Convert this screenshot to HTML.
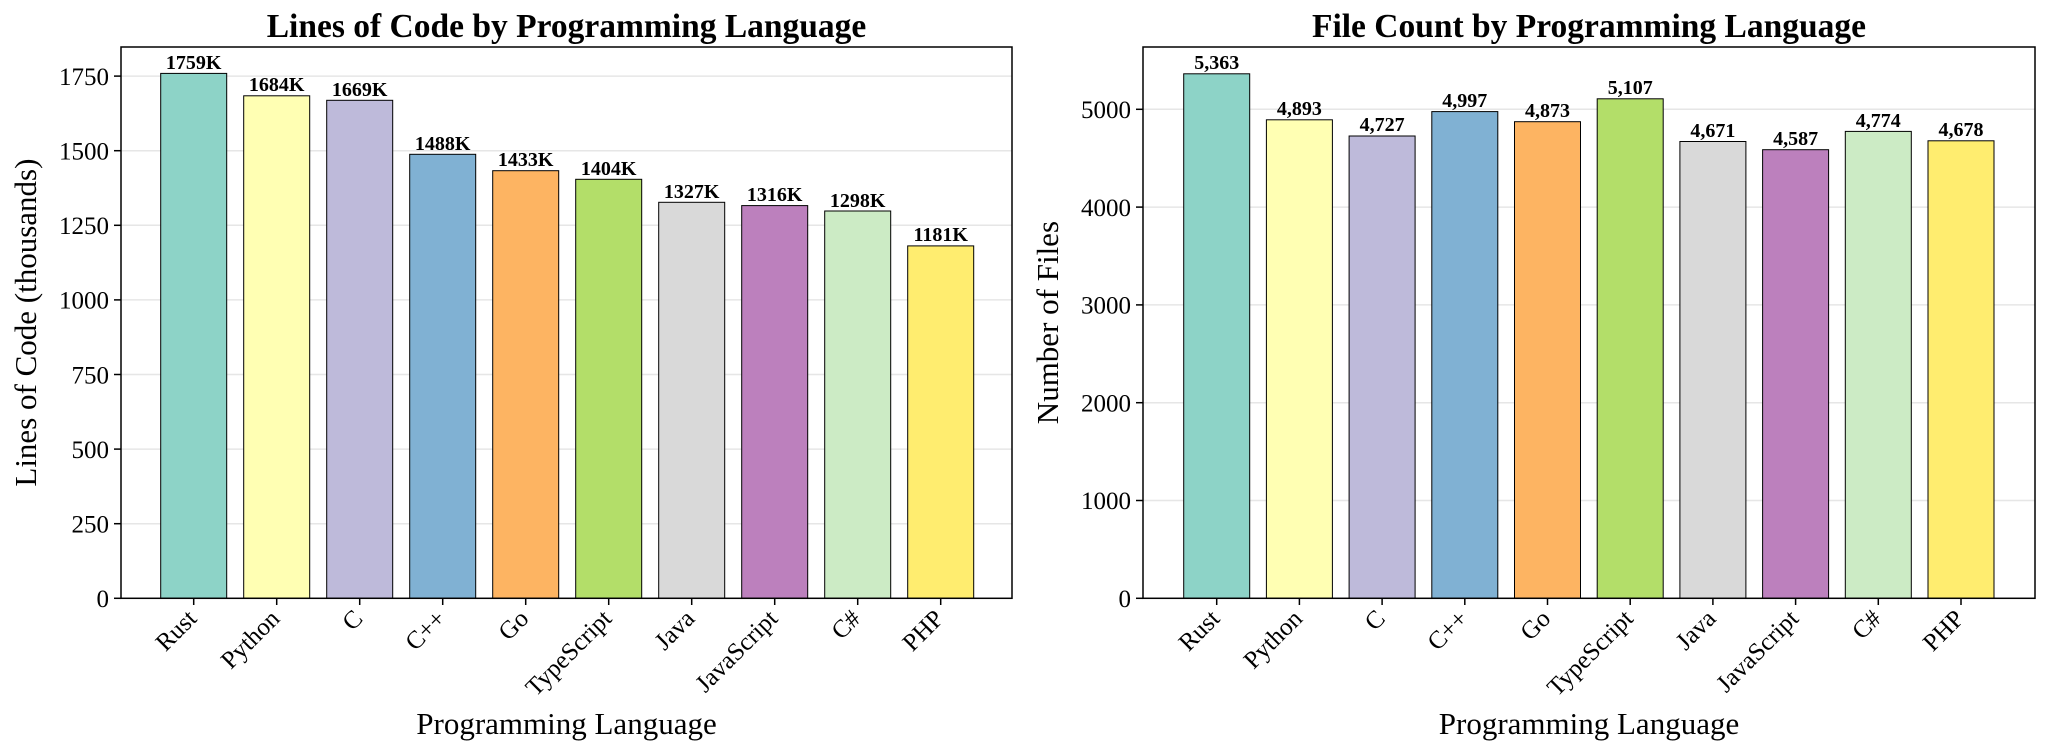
<!DOCTYPE html>
<html><head><meta charset="utf-8"><style>
html,body{margin:0;padding:0;background:#fff;}
svg{display:block;font-family:"Liberation Serif",serif;}
</style></head><body>
<svg width="2048" height="755" viewBox="0 0 2048 755" xmlns="http://www.w3.org/2000/svg">
<g id="left">
<text x="566.5" y="37" font-size="33.5" font-weight="bold" text-anchor="middle">Lines of Code by Programming Language</text>
<g stroke="#e6e6e6" stroke-width="1.5">
<line x1="121" x2="1012" y1="523.7" y2="523.7"/><line x1="121" x2="1012" y1="449.1" y2="449.1"/>
<line x1="121" x2="1012" y1="374.5" y2="374.5"/><line x1="121" x2="1012" y1="299.9" y2="299.9"/>
<line x1="121" x2="1012" y1="225.3" y2="225.3"/><line x1="121" x2="1012" y1="150.7" y2="150.7"/>
<line x1="121" x2="1012" y1="76.1" y2="76.1"/>
</g>
<g stroke="#000" stroke-width="1">
<rect x="160.7" y="73.4" width="66" height="524.9" fill="#8dd3c7"/>
<rect x="243.7" y="95.8" width="66" height="502.5" fill="#ffffb3"/>
<rect x="326.7" y="100.3" width="66" height="498" fill="#bebada"/>
<rect x="409.7" y="154.3" width="66" height="444" fill="#80b1d3"/>
<rect x="492.7" y="170.7" width="66" height="427.6" fill="#fdb462"/>
<rect x="575.7" y="179.3" width="66" height="419" fill="#b3de69"/>
<rect x="658.7" y="202.3" width="66" height="396" fill="#d9d9d9"/>
<rect x="741.7" y="205.6" width="66" height="392.7" fill="#bc80bd"/>
<rect x="824.7" y="211" width="66" height="387.3" fill="#ccebc5"/>
<rect x="907.7" y="245.9" width="66" height="352.4" fill="#ffed6f"/>
</g>
<g font-size="20" font-weight="bold" text-anchor="middle">
<text x="193.7" y="69">1759K</text><text x="276.7" y="91">1684K</text><text x="359.7" y="96">1669K</text>
<text x="442.7" y="150">1488K</text><text x="525.7" y="166">1433K</text><text x="608.7" y="175">1404K</text>
<text x="691.7" y="198">1327K</text><text x="774.7" y="201">1316K</text><text x="857.7" y="207">1298K</text>
<text x="940.7" y="241">1181K</text>
</g>
<rect x="121" y="47" width="891" height="551.3" fill="none" stroke="#000" stroke-width="1.5"/>
<g stroke="#000" stroke-width="1.5">
<line x1="114" x2="121" y1="598.3" y2="598.3"/><line x1="114" x2="121" y1="523.7" y2="523.7"/>
<line x1="114" x2="121" y1="449.1" y2="449.1"/><line x1="114" x2="121" y1="374.5" y2="374.5"/>
<line x1="114" x2="121" y1="299.9" y2="299.9"/><line x1="114" x2="121" y1="225.3" y2="225.3"/>
<line x1="114" x2="121" y1="150.7" y2="150.7"/><line x1="114" x2="121" y1="76.1" y2="76.1"/>
</g>
<g font-size="25" text-anchor="end">
<text x="109" y="607">0</text><text x="109" y="532.5">250</text><text x="109" y="458">500</text>
<text x="109" y="383.5">750</text><text x="109" y="308.5">1000</text><text x="109" y="234">1250</text>
<text x="109" y="159.5">1500</text><text x="109" y="85">1750</text>
</g>
<text transform="translate(36,322.6) rotate(-90)" font-size="31" text-anchor="middle">Lines of Code (thousands)</text>
<text x="566.5" y="734" font-size="31" text-anchor="middle">Programming Language</text>
</g>
<g id="right">
<text x="1589" y="37" font-size="33.5" font-weight="bold" text-anchor="middle">File Count by Programming Language</text>
<g stroke="#e6e6e6" stroke-width="1.5">
<line x1="1143" x2="2035" y1="500.5" y2="500.5"/><line x1="1143" x2="2035" y1="402.7" y2="402.7"/>
<line x1="1143" x2="2035" y1="304.9" y2="304.9"/><line x1="1143" x2="2035" y1="207.1" y2="207.1"/>
<line x1="1143" x2="2035" y1="109.3" y2="109.3"/>
</g>
<g stroke="#000" stroke-width="1">
<rect x="1183.7" y="73.8" width="66" height="524.5" fill="#8dd3c7"/>
<rect x="1266.4" y="119.8" width="66" height="478.5" fill="#ffffb3"/>
<rect x="1349.1" y="136" width="66" height="462.3" fill="#bebada"/>
<rect x="1431.8" y="111.6" width="66" height="486.7" fill="#80b1d3"/>
<rect x="1514.5" y="121.7" width="66" height="476.6" fill="#fdb462"/>
<rect x="1597.2" y="98.8" width="66" height="499.5" fill="#b3de69"/>
<rect x="1679.9" y="141.5" width="66" height="456.8" fill="#d9d9d9"/>
<rect x="1762.6" y="149.7" width="66" height="448.6" fill="#bc80bd"/>
<rect x="1845.3" y="131.4" width="66" height="466.9" fill="#ccebc5"/>
<rect x="1928" y="140.8" width="66" height="457.5" fill="#ffed6f"/>
</g>
<g font-size="20" font-weight="bold" text-anchor="middle">
<text x="1216.7" y="69">5,363</text><text x="1299.4" y="115">4,893</text><text x="1382.1" y="131">4,727</text>
<text x="1464.8" y="107">4,997</text><text x="1547.5" y="117">4,873</text><text x="1630.2" y="94">5,107</text>
<text x="1712.9" y="137">4,671</text><text x="1795.6" y="145">4,587</text><text x="1878.3" y="127">4,774</text>
<text x="1961" y="136">4,678</text>
</g>
<rect x="1143" y="47" width="892" height="551.3" fill="none" stroke="#000" stroke-width="1.5"/>
<g stroke="#000" stroke-width="1.5">
<line x1="1136" x2="1143" y1="598.3" y2="598.3"/><line x1="1136" x2="1143" y1="500.5" y2="500.5"/>
<line x1="1136" x2="1143" y1="402.7" y2="402.7"/><line x1="1136" x2="1143" y1="304.9" y2="304.9"/>
<line x1="1136" x2="1143" y1="207.1" y2="207.1"/><line x1="1136" x2="1143" y1="109.3" y2="109.3"/>
</g>
<g font-size="25" text-anchor="end">
<text x="1131" y="607">0</text><text x="1131" y="509.2">1000</text><text x="1131" y="411.5">2000</text>
<text x="1131" y="313.5">3000</text><text x="1131" y="215.8">4000</text><text x="1131" y="118">5000</text>
</g>
<text transform="translate(1058,322.6) rotate(-90)" font-size="31" text-anchor="middle">Number of Files</text>
<text x="1589" y="734" font-size="31" text-anchor="middle">Programming Language</text>
</g>
<g stroke="#000" stroke-width="1.5">
<line x1="193.7" x2="193.7" y1="598.3" y2="605"/><line x1="276.7" x2="276.7" y1="598.3" y2="605"/>
<line x1="359.7" x2="359.7" y1="598.3" y2="605"/><line x1="442.7" x2="442.7" y1="598.3" y2="605"/>
<line x1="525.7" x2="525.7" y1="598.3" y2="605"/><line x1="608.7" x2="608.7" y1="598.3" y2="605"/>
<line x1="691.7" x2="691.7" y1="598.3" y2="605"/><line x1="774.7" x2="774.7" y1="598.3" y2="605"/>
<line x1="857.7" x2="857.7" y1="598.3" y2="605"/><line x1="940.7" x2="940.7" y1="598.3" y2="605"/>
<line x1="1216.7" x2="1216.7" y1="598.3" y2="605"/><line x1="1299.4" x2="1299.4" y1="598.3" y2="605"/>
<line x1="1382.1" x2="1382.1" y1="598.3" y2="605"/><line x1="1464.8" x2="1464.8" y1="598.3" y2="605"/>
<line x1="1547.5" x2="1547.5" y1="598.3" y2="605"/><line x1="1630.2" x2="1630.2" y1="598.3" y2="605"/>
<line x1="1712.9" x2="1712.9" y1="598.3" y2="605"/><line x1="1795.6" x2="1795.6" y1="598.3" y2="605"/>
<line x1="1878.3" x2="1878.3" y1="598.3" y2="605"/><line x1="1961" x2="1961" y1="598.3" y2="605"/>
</g>
<g font-size="25" text-anchor="end">
<text transform="translate(198,620) rotate(-45)">Rust</text>
<text transform="translate(281,620) rotate(-45)">Python</text>
<text transform="translate(364,620) rotate(-45)">C</text>
<text transform="translate(447,620) rotate(-45)">C++</text>
<text transform="translate(530,620) rotate(-45)">Go</text>
<text transform="translate(613,620) rotate(-45)">TypeScript</text>
<text transform="translate(696,620) rotate(-45)">Java</text>
<text transform="translate(779,620) rotate(-45)">JavaScript</text>
<text transform="translate(862,620) rotate(-45)">C#</text>
<text transform="translate(945,620) rotate(-45)">PHP</text>
<text transform="translate(1221,620) rotate(-45)">Rust</text>
<text transform="translate(1303.7,620) rotate(-45)">Python</text>
<text transform="translate(1386.4,620) rotate(-45)">C</text>
<text transform="translate(1469.1,620) rotate(-45)">C++</text>
<text transform="translate(1551.8,620) rotate(-45)">Go</text>
<text transform="translate(1634.5,620) rotate(-45)">TypeScript</text>
<text transform="translate(1717.2,620) rotate(-45)">Java</text>
<text transform="translate(1799.9,620) rotate(-45)">JavaScript</text>
<text transform="translate(1882.6,620) rotate(-45)">C#</text>
<text transform="translate(1965.3,620) rotate(-45)">PHP</text>
</g>
</svg>
</body></html>
